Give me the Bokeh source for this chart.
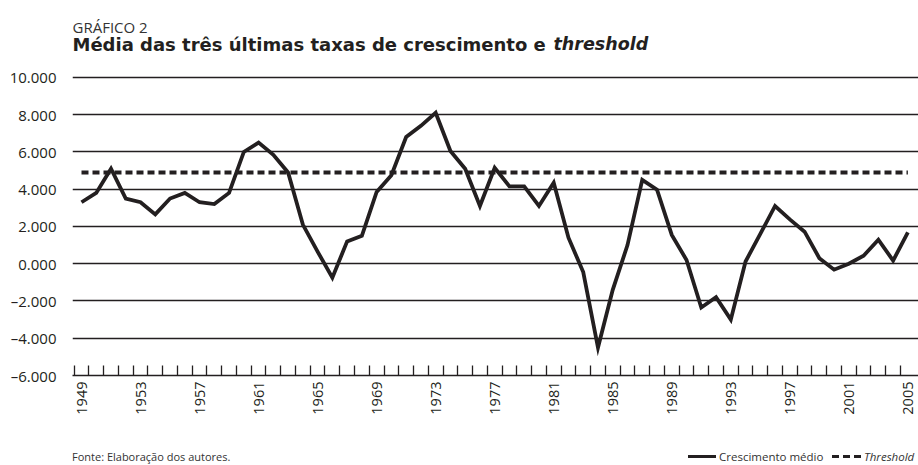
import math
from bokeh.plotting import figure
from bokeh.models import FixedTicker, Label, Range1d, Div
from bokeh.layouts import column
from bokeh.embed import file_html
from bokeh.resources import INLINE

# ---- data ----
years = list(range(1949, 2006))
crescimento = [3.3, 3.8, 5.1, 3.5, 3.3, 2.65, 3.5, 3.8, 3.3, 3.2,
               3.8, 6.0, 6.5, 5.85, 4.9, 2.1, 0.65, -0.75, 1.2, 1.5,
               3.85, 4.75, 6.8, 7.4, 8.1, 6.05, 5.1, 3.1, 5.15, 4.15,
               4.15, 3.1, 4.35, 1.4, -0.45, -4.5, -1.4, 1.0, 4.5, 3.97,
               1.55, 0.2, -2.35, -1.8, -3.0, 0.12, 1.6, 3.1, 2.38, 1.72,
               0.3, -0.32, 0.0, 0.43, 1.29, 0.17, 1.68]
threshold_value = 4.9
threshold = [threshold_value] * len(years)

y_ticks = [-6, -4, -2, 0, 2, 4, 6, 8, 10]
y_tick_labels = ["–6.000", "–4.000", "–2.000", "0.000", "2.000",
                 "4.000", "6.000", "8.000", "10.000"]
year_label_ticks = list(range(1949, 2006, 4))
year_boundaries = [y + 0.5 for y in range(1948, 2005)]

title_top = "GRÁFICO 2"
title_main = "Média das três últimas taxas de crescimento e"
title_italic = "threshold"
source_text = "Fonte: Elaboração dos autores."
legend_labels = ["Crescimento médio", "Threshold"]

INK = "#231f20"
FONT = "Open Sans"
TITLE_FONT = "DejaVu Sans"

X0, X1 = 1948.39, 2005.72
PX_PER_YEAR = 846 / (X1 - X0)
p = figure(width=918, height=440, output_backend="svg", toolbar_location=None,
           x_range=Range1d(X0, X1), y_range=Range1d(-6, 14.13),
           min_border_left=72, min_border_right=0, min_border_top=0,
           min_border_bottom=65)
p.outline_line_color = None

# grid
p.xgrid.visible = False
p.ygrid.ticker = FixedTicker(ticks=y_ticks)
p.ygrid.grid_line_color = INK
p.ygrid.grid_line_width = 1.3

# y axis
p.yaxis.ticker = FixedTicker(ticks=y_ticks)
p.yaxis.major_label_overrides = {t: l for t, l in zip(y_ticks, y_tick_labels)}
p.yaxis.axis_line_color = None
p.yaxis.major_tick_line_color = None
p.yaxis.minor_tick_line_color = None
p.yaxis.major_label_standoff = 10
p.yaxis.major_label_text_font = FONT
p.yaxis.major_label_text_font_size = "15px"
p.yaxis.major_label_text_color = INK

# x axis
p.xaxis.ticker = FixedTicker(ticks=year_label_ticks, minor_ticks=year_boundaries)
p.xaxis.major_label_overrides = {t: str(t) for t in year_label_ticks}
p.xaxis.axis_line_color = INK
p.xaxis.axis_line_width = 1.5
p.xaxis.major_tick_in = 0
p.xaxis.major_tick_out = 0
p.xaxis.major_tick_line_color = None
p.xaxis.minor_tick_in = 10
p.xaxis.minor_tick_out = 0
p.xaxis.minor_tick_line_color = INK
p.xaxis.minor_tick_line_width = 1.3
p.xaxis.major_label_orientation = math.pi / 2
p.xaxis.major_label_standoff = 6
p.xaxis.major_label_text_font = FONT
p.xaxis.major_label_text_font_size = "14.5px"
p.xaxis.major_label_text_color = INK

# series
r_th = p.line(years, threshold, line_color=INK, line_width=4, line_dash="7 4")
r_cr = p.line(years, crescimento, line_color=INK, line_width=3.8, line_join="miter")

# titles (inside the frame, above the 10.000 grid line)
p.add_layout(Label(x=X0, y=12.7, text=title_top,
                   text_font=FONT, text_font_size="15px", text_color="#333333",
                   text_baseline="alphabetic"))
p.add_layout(Label(x=X0, y=11.78, text=title_main,
                   text_font=TITLE_FONT, text_font_size="18px", text_font_style="bold",
                   text_color=INK, text_baseline="alphabetic"))
p.add_layout(Label(x=X0 + (553 - 72) / PX_PER_YEAR, y=11.78, text=title_italic,
                   text_font=TITLE_FONT, text_font_size="17.5px",
                   text_font_style="bold italic",
                   text_color=INK, text_baseline="alphabetic"))

# footer: source + legend
footer_html = f"""
<div style="position:relative;width:918px;height:25px;font-family:'Open Sans';
font-size:11px;color:#333333;line-height:16px;">
<span style="position:absolute;left:72px;top:9px;white-space:nowrap;">{source_text}</span>
<span style="position:absolute;left:688px;top:15px;width:28px;height:3px;background:{INK};"></span>
<span style="position:absolute;left:719px;top:9px;white-space:nowrap;font-size:11.5px;">{legend_labels[0]}</span>
<span style="position:absolute;left:832px;top:15px;width:29px;height:3px;
background:repeating-linear-gradient(to right,{INK} 0 7px,transparent 7px 11px);"></span>
<span style="position:absolute;left:864px;top:9px;white-space:nowrap;font-style:italic;font-size:11.5px;">{legend_labels[1]}</span>
</div>
"""
footer = Div(text=footer_html, width=918, height=25, margin=0)

layout = column(p, footer, spacing=0, margin=0)
open("out.html", "w").write(file_html(layout, INLINE))
